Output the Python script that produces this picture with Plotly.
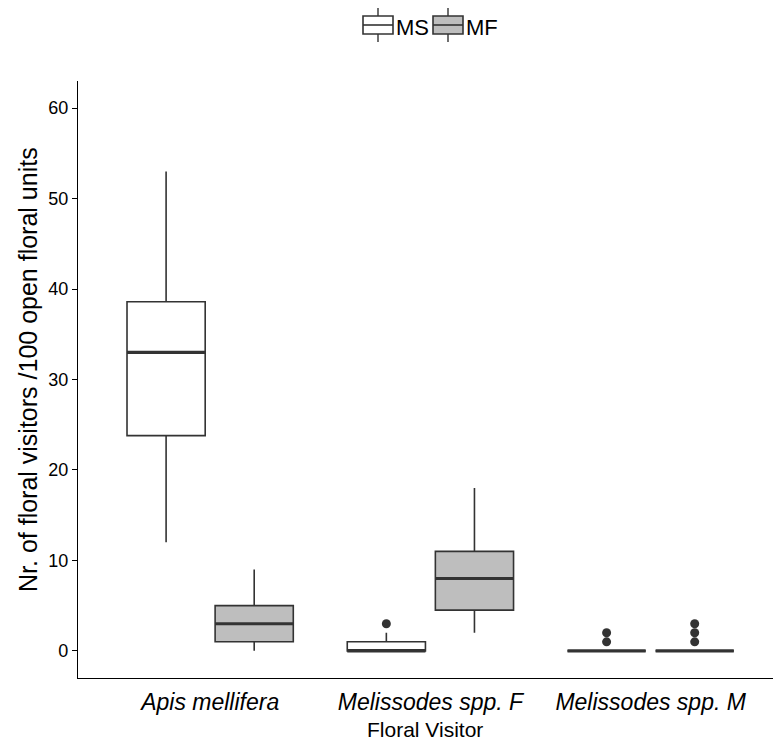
import plotly.graph_objects as go

categories = ["Apis mellifera", "Melissodes spp. F", "Melissodes spp. M"]
cat_pos = [1, 2, 3]
groups = ["MS", "MF"]

ms_q1 = [23.8, 0, 0]
ms_median = [33, 0, 0]
ms_q3 = [38.6, 1, 0]
ms_lower = [12, 0, 0]
ms_upper = [53, 2, 0]
ms_outliers = [[], [3], [1, 2]]

mf_q1 = [1, 4.5, 0]
mf_median = [3, 8, 0]
mf_q3 = [5, 11, 0]
mf_lower = [0, 2, 0]
mf_upper = [9, 18, 0]
mf_outliers = [[], [], [1, 2, 3]]

y_ticks = [0, 10, 20, 30, 40, 50, 60]

fills = {"MS": "#FFFFFF", "MF": "#BEBEBE"}
offsets = {"MS": -0.2, "MF": 0.2}
box_width = 0.355
line_col = "#333333"

stats = {
    "MS": (ms_q1, ms_median, ms_q3, ms_lower, ms_upper, ms_outliers),
    "MF": (mf_q1, mf_median, mf_q3, mf_lower, mf_upper, mf_outliers),
}

W, H = 773, 747
L, R, T, B = 78, 0, 81, 69
PW, PH = W - L - R, H - T - B


def px(X):
    return (X - L) / PW


def py(Y):
    return (H - B - Y) / PH


fig = go.Figure()
for g in groups:
    q1, med, q3, lo, hi, outs = stats[g]
    xs = [p + offsets[g] for p in cat_pos]
    fig.add_trace(go.Box(
        name=g, x=xs, q1=q1, median=med, q3=q3, lowerfence=lo, upperfence=hi,
        width=box_width, fillcolor=fills[g],
        line=dict(color=line_col, width=1.6), boxpoints=False,
        whiskerwidth=0, showlegend=False, hoverinfo="skip",
    ))
for g in groups:
    q1, med, q3, lo, hi, outs = stats[g]
    xs = [p + offsets[g] for p in cat_pos]
    mx, my = [], []
    for x, m in zip(xs, med):
        mx += [x - box_width / 2, x + box_width / 2, None]
        my += [m, m, None]
    fig.add_trace(go.Scatter(x=mx, y=my, mode="lines",
                             line=dict(color=line_col, width=3.2),
                             showlegend=False, hoverinfo="skip"))
    ox, oy = [], []
    for x, o in zip(xs, outs):
        for v in o:
            ox.append(x)
            oy.append(v)
    fig.add_trace(go.Scatter(x=ox, y=oy, mode="markers",
                             marker=dict(color=line_col, size=9),
                             showlegend=False, hoverinfo="skip"))

# custom legend (box-with-whisker keys, like the reference)
shapes = []
annotations = []
key_left = [363, 433]
for g, kx in zip(groups, key_left):
    kw = 30
    cx = kx + kw / 2
    shapes.append(dict(type="line", xref="paper", yref="paper",
                       x0=px(cx), x1=px(cx), y0=py(8), y1=py(42),
                       line=dict(color=line_col, width=1.4)))
    shapes.append(dict(type="rect", xref="paper", yref="paper",
                       x0=px(kx), x1=px(kx + kw), y0=py(16), y1=py(34),
                       fillcolor=fills[g], line=dict(color=line_col, width=1.6)))
    shapes.append(dict(type="line", xref="paper", yref="paper",
                       x0=px(kx), x1=px(kx + kw), y0=py(25), y1=py(25),
                       line=dict(color=line_col, width=1.6)))
    annotations.append(dict(text=g, xref="paper", yref="paper",
                            x=px(kx + kw + 1), y=py(27), xanchor="left", yanchor="middle",
                            showarrow=False, font=dict(size=22, color="black")))

annotations.append(dict(text="Nr. of floral visitors /100 open floral units",
                        xref="paper", yref="paper", x=px(28), y=py(370),
                        xanchor="center", yanchor="middle", textangle=-90,
                        showarrow=False, font=dict(size=25, color="black")))
annotations.append(dict(text="Floral Visitor",
                        xref="paper", yref="paper", x=px(425), y=py(729),
                        xanchor="center", yanchor="middle",
                        showarrow=False, font=dict(size=21, color="black")))

font_family = "Liberation Sans, Arial, sans-serif"
fig.update_layout(
    width=W, height=H,
    margin=dict(l=L, r=R, t=T, b=B),
    plot_bgcolor="white", paper_bgcolor="white",
    font=dict(family=font_family, color="black"),
    boxmode="overlay",
    showlegend=False,
    shapes=shapes, annotations=annotations,
)
fig.update_xaxes(
    range=[0.4, 0.4 + PW / 220.25],
    tickvals=cat_pos, ticktext=["<i>%s</i>" % c for c in categories],
    showgrid=False, zeroline=False, showline=True, linecolor="black", linewidth=1.2,
    ticks="", automargin=False, ticklabelstandoff=3,
    tickfont=dict(size=23, color="black"),
)
fig.update_yaxes(
    range=[-3, 63], tickvals=y_ticks,
    showgrid=False, zeroline=False, showline=True, linecolor="black", linewidth=1.2,
    ticks="outside", ticklen=5, tickcolor="black", automargin=False,
    tickfont=dict(size=18, color="black"),
)
fig.write_html("out.html", config={"displayModeBar": False},
               post_script="document.body.style.margin='0';document.body.style.overflow='hidden';")
